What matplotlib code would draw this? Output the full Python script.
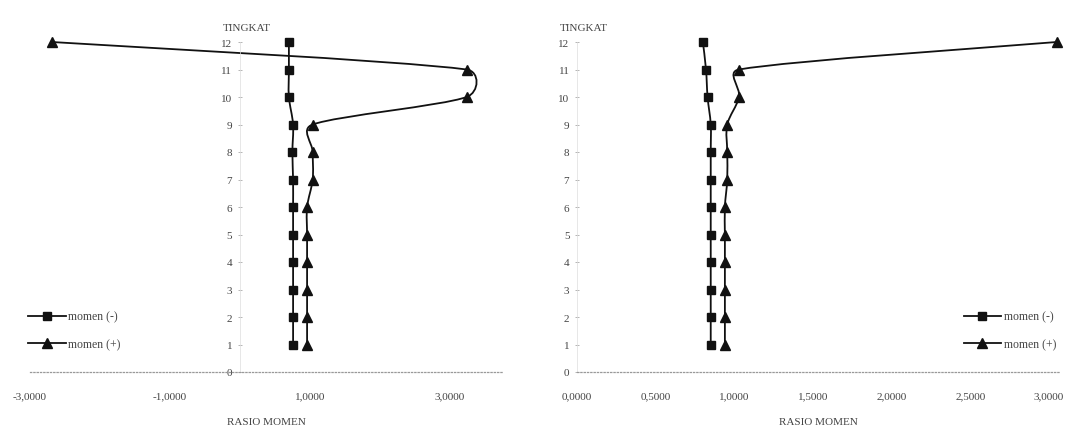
import numpy as np
import matplotlib
matplotlib.use("Agg")
import matplotlib.pyplot as plt
from matplotlib.path import Path
from matplotlib.patches import PathPatch
from matplotlib.lines import Line2D

# data
tingkat = [1, 2, 3, 4, 5, 6, 7, 8, 9, 10, 11, 12]

kiri_neg = [0.76, 0.76, 0.76, 0.76, 0.76, 0.76, 0.76, 0.75, 0.76, 0.70, 0.70, 0.70]
kiri_pos = [0.96, 0.96, 0.96, 0.96, 0.96, 0.96, 1.04, 1.04, 1.04, 3.24, 3.24, -2.69]

kanan_neg = [0.85, 0.85, 0.85, 0.85, 0.85, 0.85, 0.85, 0.85, 0.85, 0.83, 0.82, 0.80]
kanan_pos = [0.94, 0.94, 0.94, 0.94, 0.94, 0.94, 0.955, 0.955, 0.955, 1.03, 1.03, 3.05]

kiri_xticks = [-3, -1, 1, 3]
kanan_xticks = [0, 0.5, 1.0, 1.5, 2.0, 2.5, 3.0]
yticks = list(range(0, 13))

plt.rcParams['font.family'] = ['Liberation Serif', 'DejaVu Serif']
TXT = '#444444'


def smooth_path(ax, xs, ys):
    # excel-like smoothed line, built in display space
    pts = ax.transData.transform(np.column_stack([xs, ys]))
    n = len(pts)
    verts = [pts[0]]
    codes = [Path.MOVETO]
    for i in range(n - 1):
        p0 = pts[max(i - 1, 0)]
        p1 = pts[i]
        p2 = pts[i + 1]
        p3 = pts[min(i + 2, n - 1)]
        seg = np.hypot(*(p2 - p1))
        d1 = (p2 - p0) / 6.0
        d2 = (p3 - p1) / 6.0
        lim = 0.5 * seg
        for d in (d1, d2):
            m = np.hypot(*d)
            if m > lim:
                d *= lim / m
        verts += [p1 + d1, p2 - d2, p2]
        codes += [Path.CURVE4] * 3
    verts = ax.transData.inverted().transform(np.array(verts))
    return Path(verts, codes)


def fmt(v):
    return ('%.4f' % v).replace('.', ',')


def draw(ax, neg, pos, xlim, xticks, legend_anchor, legend_loc, fig):
    ax.set_xlim(*xlim)
    ax.set_ylim(0, 12)
    for xs, mk, ms in [(neg, 's', 5.5), (pos, '^', 6.5)]:
        p = smooth_path(ax, xs, tingkat)
        ax.add_patch(PathPatch(p, fill=False, lw=1.3, edgecolor='#111111', clip_on=False))
        ax.plot(xs, tingkat, ls='none', marker=mk, ms=ms, color='#111111', clip_on=False)

    for s in ['top', 'right']:
        ax.spines[s].set_visible(False)
    ax.spines['left'].set_position(('data', 0))
    ax.spines['left'].set_color('#dddddd')
    ax.spines['left'].set_linewidth(0.5)
    ax.spines['bottom'].set_color('#999999')
    ax.spines['bottom'].set_linestyle(':')
    ax.spines['bottom'].set_linewidth(0.9)

    ax.set_xticks(xticks)
    ax.set_xticklabels([fmt(v) for v in xticks])
    ax.set_yticks(yticks)
    ax.set_yticklabels([str(v) for v in yticks])
    ax.tick_params(axis='x', length=0, pad=14, labelsize=8, labelcolor=TXT)
    ax.tick_params(axis='y', length=3, width=0.6, color='#aaaaaa', direction='inout',
                   pad=4, labelsize=8, labelcolor=TXT)
    ax.set_xlabel('RASIO MOMEN', fontsize=8, color=TXT, labelpad=12)
    ax.annotate('TINGKAT', xy=(0, 1.03), xycoords=ax.get_xaxis_transform(),
                xytext=(5, 0), textcoords='offset points',
                ha='center', va='bottom', fontsize=8, color=TXT)

    handles = [
        Line2D([], [], color='#111111', lw=1.3, marker='s', ms=5.5),
        Line2D([], [], color='#111111', lw=1.3, marker='^', ms=6.5),
    ]
    leg = ax.legend(handles, ['momen (-)', 'momen (+)'], loc=legend_loc,
                    bbox_to_anchor=legend_anchor, bbox_transform=fig.transFigure,
                    frameon=False, fontsize=8.5, handlelength=3.2, labelspacing=1.3,
                    handletextpad=0.2, borderpad=0)
    for t in leg.get_texts():
        t.set_color(TXT)


fig = plt.figure(figsize=(10.83, 4.35), dpi=100)
ax1 = fig.add_axes([30 / 1083, 62 / 435, 473 / 1083, 330 / 435])
ax2 = fig.add_axes([577 / 1083, 62 / 435, 483 / 1083, 330 / 435])

draw(ax1, kiri_neg, kiri_pos, (-3, 3.76), kiri_xticks, (22 / 1083, 78 / 435), 'lower left', fig)
draw(ax2, kanan_neg, kanan_pos, (0, 3.07), kanan_xticks, (1062 / 1083, 78 / 435), 'lower right', fig)

fig.savefig('out.png', dpi=100)
